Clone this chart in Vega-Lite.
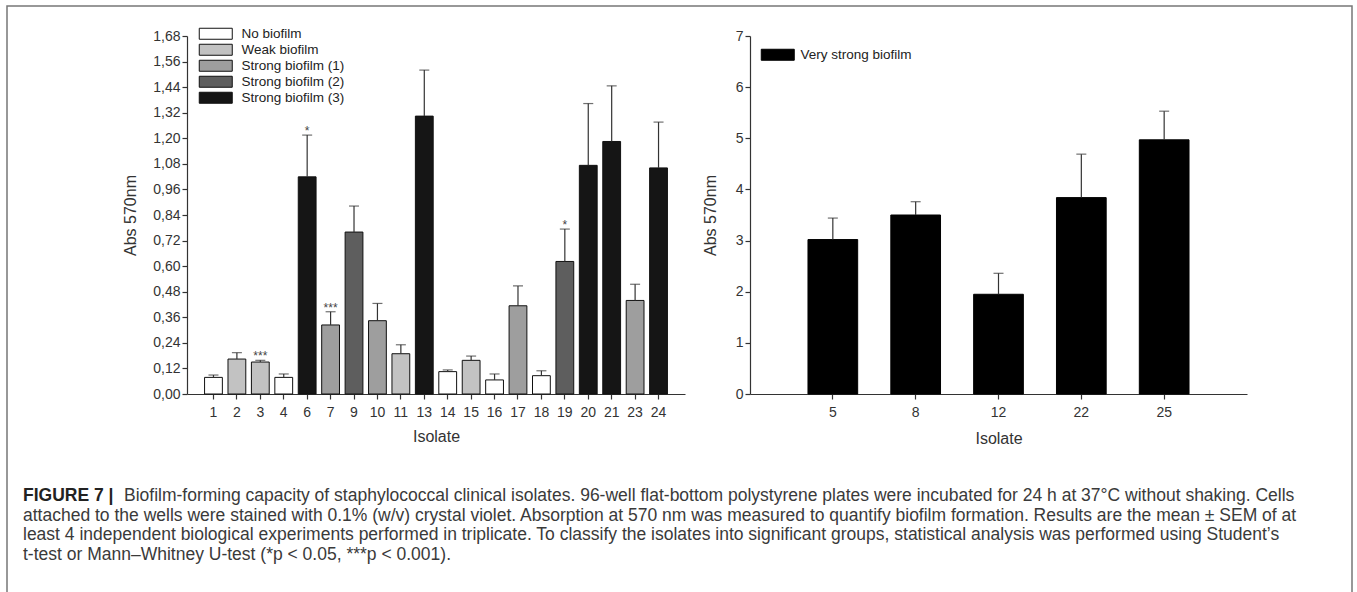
{
  "$schema": "https://vega.github.io/schema/vega-lite/v6.json",
  "width": 1345,
  "height": 600,
  "autosize": {"type": "none"},
  "padding": {"left": 7, "top": 6, "right": 5, "bottom": 0},
  "background": "white",
  "datasets": {
    "left": [
      {"isolate": "1", "group": "No biofilm", "mean": 0.078, "upper": 0.089, "sig": ""},
      {"isolate": "2", "group": "Weak biofilm", "mean": 0.164, "upper": 0.194, "sig": ""},
      {"isolate": "3", "group": "Weak biofilm", "mean": 0.150, "upper": 0.158, "sig": "***"},
      {"isolate": "4", "group": "No biofilm", "mean": 0.078, "upper": 0.094, "sig": ""},
      {"isolate": "6", "group": "Strong biofilm (3)", "mean": 1.019, "upper": 1.215, "sig": "*"},
      {"isolate": "7", "group": "Strong biofilm (1)", "mean": 0.324, "upper": 0.386, "sig": "***"},
      {"isolate": "9", "group": "Strong biofilm (2)", "mean": 0.760, "upper": 0.882, "sig": ""},
      {"isolate": "10", "group": "Strong biofilm (1)", "mean": 0.344, "upper": 0.425, "sig": ""},
      {"isolate": "11", "group": "Weak biofilm", "mean": 0.189, "upper": 0.231, "sig": ""},
      {"isolate": "13", "group": "Strong biofilm (3)", "mean": 1.304, "upper": 1.520, "sig": ""},
      {"isolate": "14", "group": "No biofilm", "mean": 0.105, "upper": 0.113, "sig": ""},
      {"isolate": "15", "group": "Weak biofilm", "mean": 0.158, "upper": 0.178, "sig": ""},
      {"isolate": "16", "group": "No biofilm", "mean": 0.066, "upper": 0.094, "sig": ""},
      {"isolate": "17", "group": "Strong biofilm (1)", "mean": 0.414, "upper": 0.507, "sig": ""},
      {"isolate": "18", "group": "No biofilm", "mean": 0.086, "upper": 0.109, "sig": ""},
      {"isolate": "19", "group": "Strong biofilm (2)", "mean": 0.622, "upper": 0.774, "sig": "*"},
      {"isolate": "20", "group": "Strong biofilm (3)", "mean": 1.073, "upper": 1.363, "sig": ""},
      {"isolate": "21", "group": "Strong biofilm (3)", "mean": 1.185, "upper": 1.446, "sig": ""},
      {"isolate": "23", "group": "Strong biofilm (1)", "mean": 0.439, "upper": 0.515, "sig": ""},
      {"isolate": "24", "group": "Strong biofilm (3)", "mean": 1.061, "upper": 1.276, "sig": ""}
    ],
    "right": [
      {"isolate": "5", "group": "Very strong biofilm", "mean": 3.02, "upper": 3.44},
      {"isolate": "8", "group": "Very strong biofilm", "mean": 3.50, "upper": 3.76},
      {"isolate": "12", "group": "Very strong biofilm", "mean": 1.95, "upper": 2.36},
      {"isolate": "22", "group": "Very strong biofilm", "mean": 3.84, "upper": 4.69},
      {"isolate": "25", "group": "Very strong biofilm", "mean": 4.97, "upper": 5.53}
    ],
    "caption": [
      {"line": 1, "part": "head", "text": "FIGURE 7 |"},
      {"line": 1, "part": "body", "text": "Biofilm-forming capacity of staphylococcal clinical isolates. 96-well flat-bottom polystyrene plates were incubated for 24 h at 37°C without shaking. Cells"},
      {"line": 2, "part": "body", "text": "attached to the wells were stained with 0.1% (w/v) crystal violet. Absorption at 570 nm was measured to quantify biofilm formation. Results are the mean ± SEM of at"},
      {"line": 3, "part": "body", "text": "least 4 independent biological experiments performed in triplicate. To classify the isolates into significant groups, statistical analysis was performed using Student’s"},
      {"line": 4, "part": "body", "text": "t-test or Mann–Whitney U-test (*p < 0.05, ***p < 0.001)."}
    ]
  },
  "layer": [
    {
      "data": {"name": "left"},
      "encoding": {
        "x": {
          "field": "isolate", "type": "nominal", "sort": null,
          "scale": {"range": [180, 678], "paddingInner": 0.24, "paddingOuter": 0.75},
          "axis": {"orient": "bottom", "offset": -212, "title": "Isolate", "labelAngle": 0, "labelPadding": 6, "titlePadding": 9}
        },
        "y": {
          "field": "mean", "type": "quantitative",
          "scale": {"domain": [0, 1.68], "nice": false, "zero": true, "range": [388, 30]},
          "axis": {
            "orient": "left", "offset": -180, "title": "Abs 570nm", "titlePadding": 14,
            "values": [0, 0.12, 0.24, 0.36, 0.48, 0.6, 0.72, 0.84, 0.96, 1.08, 1.2, 1.32, 1.44, 1.56, 1.68],
            "labelExpr": "replace(format(datum.value, '.2f'), '.', ',')"
          }
        }
      },
      "layer": [
        {
          "mark": {"type": "bar", "stroke": "#111", "strokeWidth": 1},
          "encoding": {
            "fill": {
              "field": "group", "type": "nominal",
              "scale": {
                "domain": ["No biofilm", "Weak biofilm", "Strong biofilm (1)", "Strong biofilm (2)", "Strong biofilm (3)"],
                "range": ["#ffffff", "#c2c2c2", "#9e9e9e", "#5e5e5e", "#151515"]
              },
              "legend": {
                "orient": "none", "legendX": 202, "legendY": 21, "title": null, "padding": 0,
                "symbolType": "M-3,-1H3V1H-3Z", "symbolSize": 121,
                "symbolStrokeColor": "#111", "symbolStrokeWidth": 1,
                "labelFontSize": 13.5, "labelColor": "#222", "rowPadding": 0, "labelOffset": 19
              }
            }
          }
        },
        {
          "mark": {"type": "rule", "color": "#333", "strokeWidth": 1.2},
          "encoding": {"y2": {"field": "upper"}}
        },
        {
          "mark": {"type": "tick", "orient": "horizontal", "size": 10, "thickness": 1.2, "color": "#333"},
          "encoding": {"y": {"field": "upper", "type": "quantitative"}}
        },
        {
          "transform": [{"filter": "datum.sig != ''"}],
          "mark": {"type": "text", "baseline": "alphabetic", "fontSize": 12, "color": "#444"},
          "encoding": {"y": {"field": "upper", "type": "quantitative"}, "text": {"field": "sig"}}
        }
      ]
    },
    {
      "data": {"name": "right"},
      "encoding": {
        "x": {
          "field": "isolate", "type": "nominal", "sort": null,
          "scale": {"range": [743, 1240], "paddingInner": 0.4, "paddingOuter": 0.7},
          "axis": {"orient": "bottom", "offset": -212, "title": "Isolate", "labelAngle": 0, "labelPadding": 6, "titlePadding": 11}
        },
        "y": {
          "field": "mean", "type": "quantitative",
          "scale": {"domain": [0, 7], "nice": false, "range": [388, 30]},
          "axis": {"orient": "left", "offset": -743, "title": "Abs 570nm", "titlePadding": 17, "values": [0, 1, 2, 3, 4, 5, 6, 7], "format": "d"}
        }
      },
      "layer": [
        {
          "mark": {"type": "bar", "stroke": "#000", "strokeWidth": 1},
          "encoding": {
            "fill": {
              "field": "group", "type": "nominal",
              "scale": {"domain": ["Very strong biofilm"], "range": ["#000000"]},
              "legend": {
                "orient": "none", "legendX": 764, "legendY": 42, "title": null, "padding": 0,
                "symbolType": "M-3,-1H3V1H-3Z", "symbolSize": 121,
                "symbolStrokeColor": "#000", "symbolStrokeWidth": 1,
                "labelFontSize": 13.5, "labelColor": "#222", "labelOffset": 16
              }
            }
          }
        },
        {
          "mark": {"type": "rule", "color": "#333", "strokeWidth": 1.2},
          "encoding": {"y2": {"field": "upper"}}
        },
        {
          "mark": {"type": "tick", "orient": "horizontal", "size": 10, "thickness": 1.2, "color": "#333"},
          "encoding": {"y": {"field": "upper", "type": "quantitative"}}
        }
      ]
    },
    {
      "data": {"name": "caption"},
      "encoding": {
        "y": {"field": "line", "type": "ordinal", "scale": {"type": "point", "range": [490, 549], "padding": 0}, "axis": null}
      },
      "layer": [
        {
          "transform": [{"filter": "datum.part == 'head'"}],
          "mark": {"type": "text", "align": "left", "baseline": "middle", "fontSize": 17.5, "fontWeight": "bold", "color": "#222"},
          "encoding": {"x": {"value": 16}, "text": {"field": "text"}}
        },
        {
          "transform": [{"filter": "datum.part == 'body' && datum.line == 1"}],
          "mark": {"type": "text", "align": "left", "baseline": "middle", "fontSize": 17.5, "color": "#3a3a3a"},
          "encoding": {"x": {"value": 117}, "text": {"field": "text"}}
        },
        {
          "transform": [{"filter": "datum.line > 1"}],
          "mark": {"type": "text", "align": "left", "baseline": "middle", "fontSize": 17.5, "color": "#3a3a3a"},
          "encoding": {"x": {"value": 16}, "text": {"field": "text"}}
        }
      ]
    }
  ],
  "resolve": {
    "scale": {"x": "independent", "y": "independent", "fill": "independent"},
    "axis": {"x": "independent", "y": "independent"},
    "legend": {"fill": "independent"}
  },
  "config": {
    "font": "Liberation Sans",
    "view": {"stroke": "#777", "strokeWidth": 1.5},
    "axis": {
      "grid": false, "domainColor": "#333", "tickColor": "#333", "labelColor": "#333", "titleColor": "#333",
      "labelFontSize": 14, "titleFontSize": 16, "titleFontWeight": "normal", "tickSize": 5, "domainWidth": 1.2, "tickWidth": 1.2
    },
    "legend": {"labelFont": "Liberation Sans"}
  }
}
